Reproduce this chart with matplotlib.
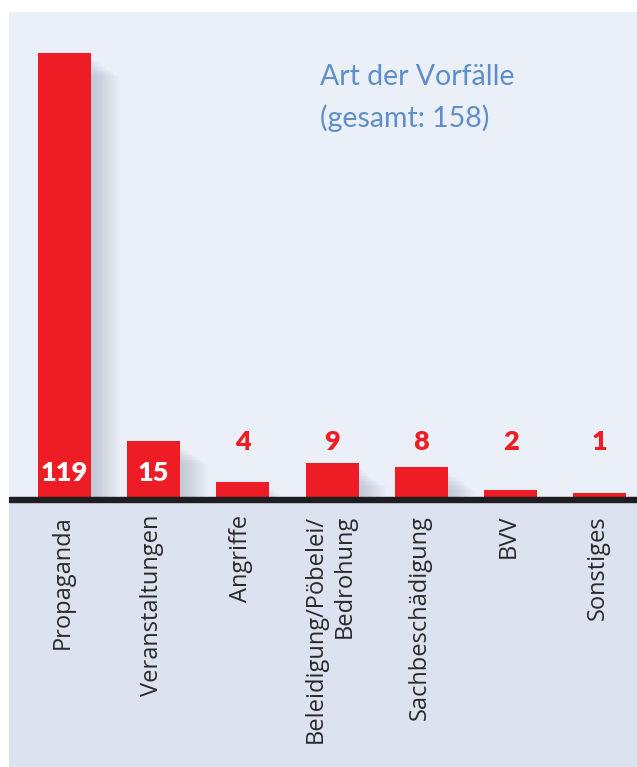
import matplotlib
matplotlib.use("Agg")
import matplotlib.pyplot as plt
from matplotlib.patches import Rectangle

categories = ["Propaganda", "Veranstaltungen", "Angriffe", "Beleidigung/Pöbelei/\nBedrohung",
              "Sachbeschädigung", "BVV", "Sonstiges"]
values = [119, 15, 4, 9, 8, 2, 1]
title = "Art der Vorfälle\n(gesamt: 158)"

W, H = 637, 767
fig = plt.figure(figsize=(W / 100, H / 100), dpi=100)
fig.patch.set_facecolor("white")

# panel spans from (9, 12) px to the bottom-right corner
left_px, top_px = 9, 12
ax = fig.add_axes([left_px / W, 0, 1 - left_px / W, 1 - top_px / H])

base_px = 497          # baseline, pixels from top
px_per_unit = 3.73     # vertical scale
step_px = 89.2         # distance between bar centres
first_px = 64.5        # centre of first bar

ax.set_ylim((base_px - H) / px_per_unit, (base_px - top_px) / px_per_unit)
ax.set_xlim((left_px - first_px) / step_px, (W - first_px) / step_px)
ax.axis("off")
ax.add_patch(Rectangle((0, 0), 1, 1, transform=ax.transAxes, color="#EBEFF8", zorder=0))
ax.axhspan((base_px - H) / px_per_unit, 0, color="#DCE2F0", zorder=1)

width = 0.595
red = "#EE1C25"
xs = list(range(len(values)))

# soft shadow to the right of each bar
for x, v in zip(xs, values):
    right = x + width / 2
    top = v - 6 / px_per_unit
    n = 14
    for k in range(n):
        ax.add_patch(Rectangle((right, 0), (k + 1) * 0.022, max(top - k * 0.35, 0),
                               color="#8E98AE", alpha=0.035, lw=0, zorder=2))

ax.bar(xs, values, width=width, color=red, zorder=3)

# baseline
ax.axhspan(-5.2 / px_per_unit, 0, color="#1E1E22", zorder=4)

# value labels
for x, v in zip(xs, values):
    if v > 12:
        ax.text(x, 3.3, str(v), ha="center", va="bottom", color="white",
                fontsize=19.5, fontweight="heavy", family="Lato", zorder=5)
    else:
        ax.text(x, 11.4, str(v), ha="center", va="bottom", color=red,
                fontsize=19.5, fontweight="heavy", family="Lato", zorder=5)

# category labels
for x, c in zip(xs, categories):
    ax.text(x - 0.02, -18 / px_per_unit, c, rotation=90, ha="center", va="top",
            multialignment="right", color="#2A2A2A", fontsize=17,
            family="Open Sans", linespacing=1.3, zorder=5)

ax.text((320 - first_px) / step_px, (base_px - 64) / px_per_unit, title,
        ha="left", va="top", color="#5E8ECB", fontsize=20.5, family="Lato",
        linespacing=1.65, zorder=5)

fig.savefig("out.png", dpi=100)
